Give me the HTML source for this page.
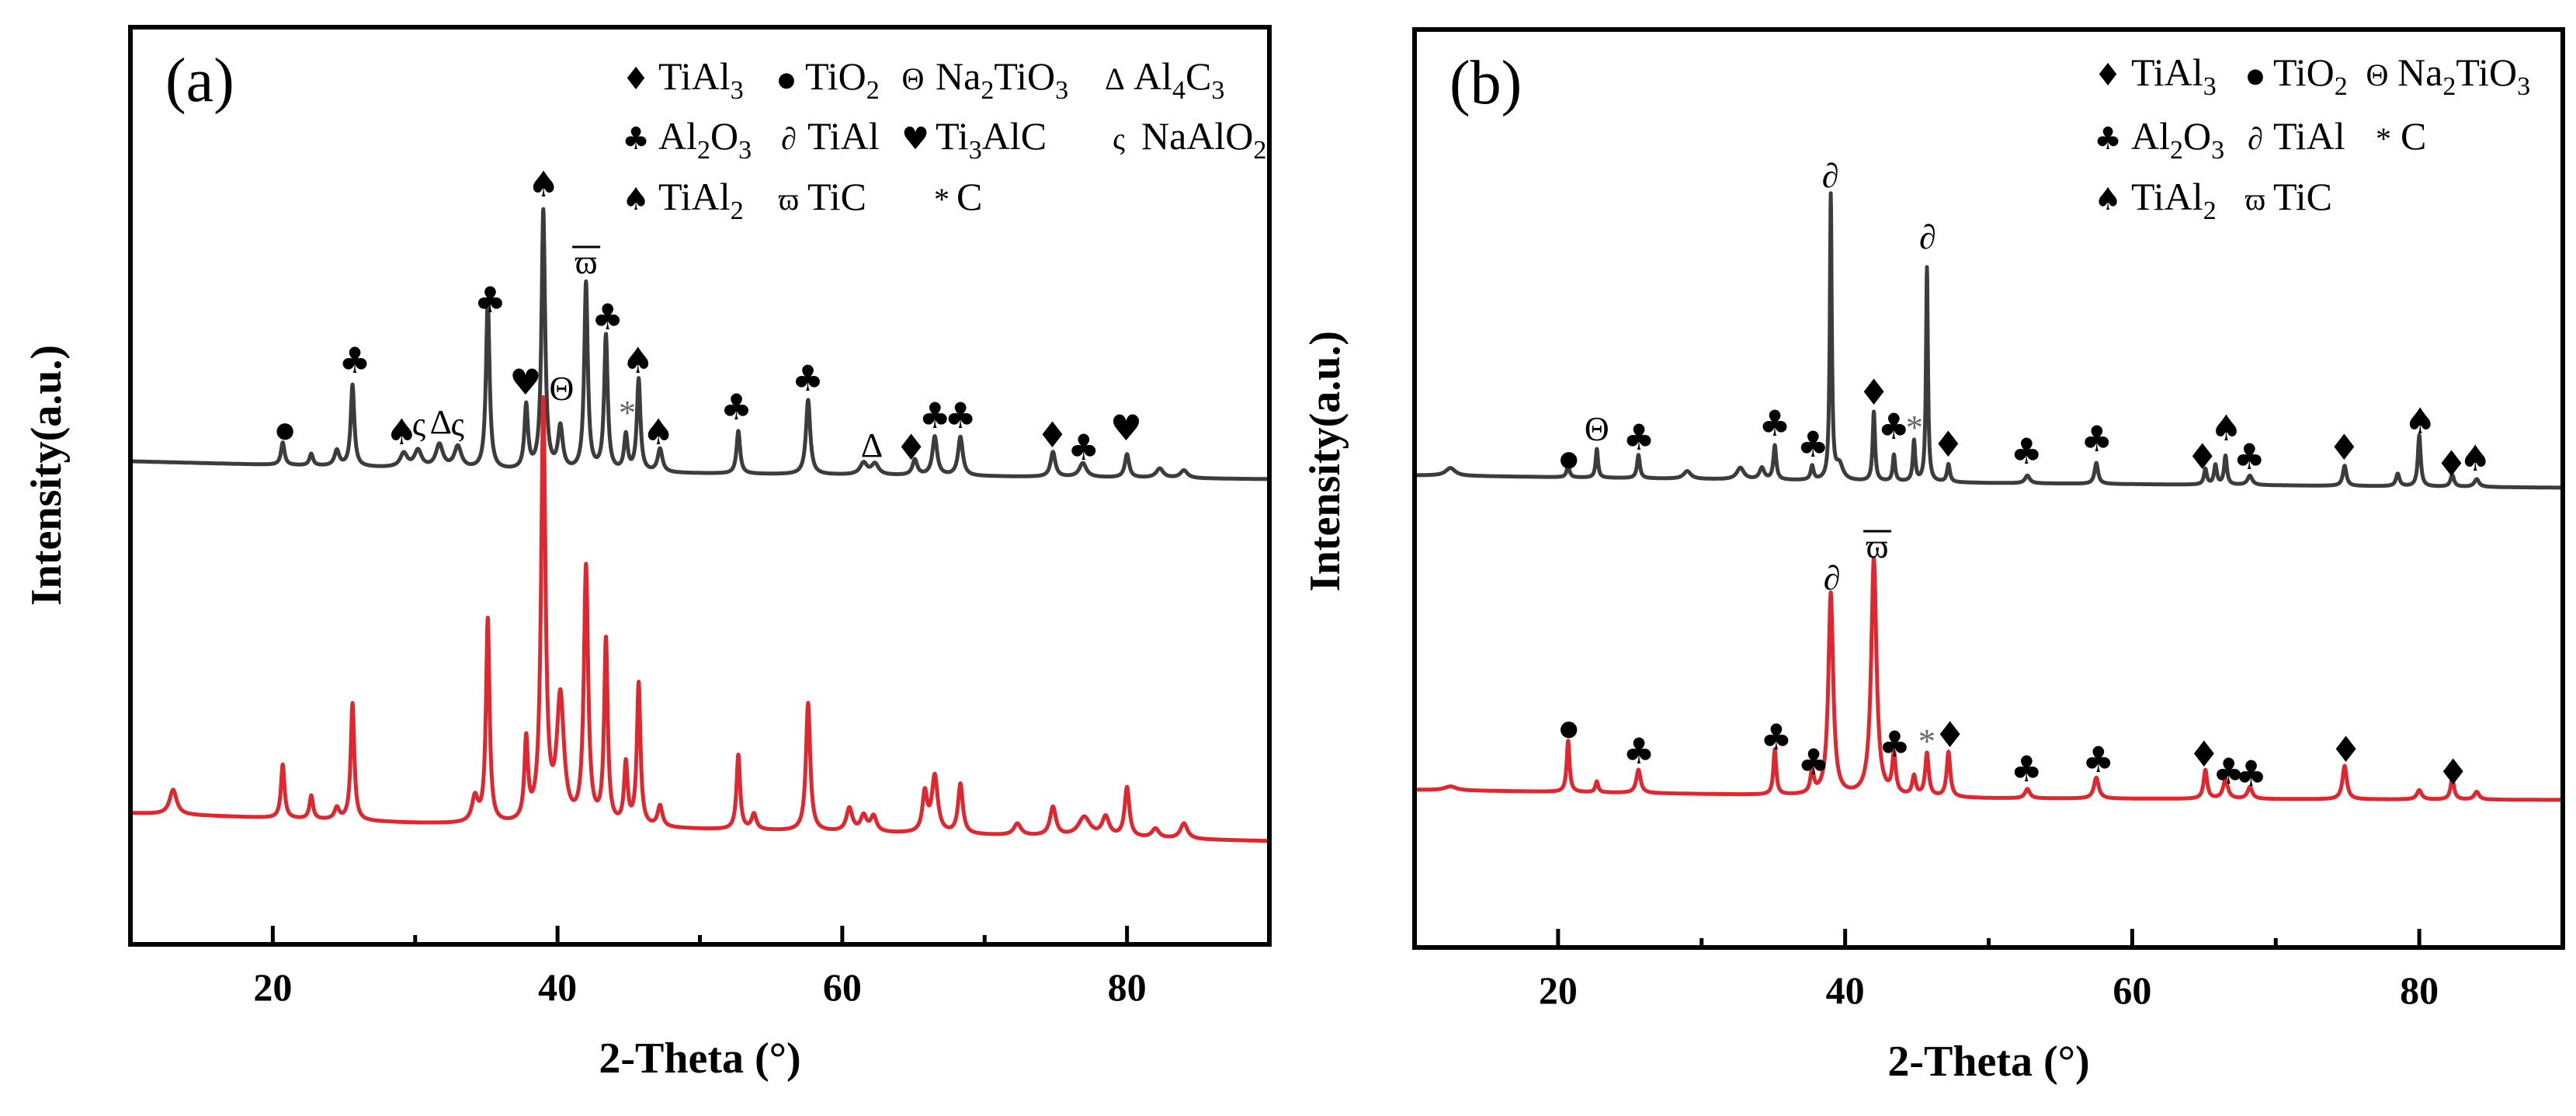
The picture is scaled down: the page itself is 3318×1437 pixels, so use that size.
<!DOCTYPE html>
<html><head><meta charset="utf-8"><style>
html,body{margin:0;padding:0;background:#fff;}
svg{display:block;font-family:"Liberation Serif",serif;}
</style></head><body>
<svg id="fig" width="3318" height="1437" viewBox="0 0 3318 1437" xmlns="http://www.w3.org/2000/svg">
<rect width="3318" height="1437" fill="#fff"/>
<g id="pa"></g>
<g id="pb"></g>
</svg>
<script>
// ---------- DATA ----------
const xTicks = [20, 40, 60, 80];
const xMinor = [30, 50, 70];
// Panel a, black (top) pattern
const aBlackBaseTheta = [10, 40, 90];
const aBlackBaseVal = [622, 608, 599];
const aBlackPeakPos = [20.7, 22.7, 24.5, 25.6, 29.2, 30.2, 31.7, 33.0, 35.1, 37.8, 39.0, 40.2, 42.0, 43.4, 44.8, 45.7, 47.2, 52.7, 57.6, 61.5, 62.3, 65.1, 66.5, 68.3, 74.8, 76.9, 80.0, 82.3, 84.0];
const aBlackPeakH =   [29, 15, 20, 105, 18, 22, 30, 28, 219, 82, 334, 55, 242, 174, 46, 119, 30, 55, 96, 15, 14, 20, 50, 50, 32, 18, 30, 12, 10];
const aBlackPeakW =   [0.15,0.15,0.2,0.15,0.3,0.3,0.3,0.3,0.15,0.15,0.15,0.2,0.15,0.15,0.15,0.15,0.2,0.15,0.18,0.3,0.3,0.2,0.2,0.2,0.2,0.3,0.18,0.3,0.3];
// Panel a, red (bottom) pattern
const aRedBaseTheta = [10, 30, 50, 90];
const aRedBaseVal = [169, 156, 148, 133];
const aRedPeakPos = [13.0, 20.7, 22.7, 24.5, 25.6, 34.2, 35.1, 37.8, 39.0, 40.2, 42.0, 43.4, 44.8, 45.7, 47.2, 52.7, 53.8, 57.6, 60.5, 61.5, 62.2, 65.8, 66.5, 68.3, 72.3, 74.8, 77.0, 78.5, 80.0, 82.0, 84.0];
const aRedPeakH =   [32, 69, 30, 15, 151, 32, 262, 103, 539, 160, 329, 236, 78, 183, 27, 96, 20, 165, 30, 20, 20, 50, 73, 64, 15, 37, 25, 25, 64, 12, 20];
const aRedPeakW =   [0.3,0.15,0.15,0.2,0.15,0.25,0.15,0.15,0.18,0.3,0.18,0.15,0.15,0.15,0.2,0.15,0.2,0.18,0.25,0.25,0.25,0.2,0.25,0.2,0.3,0.25,0.5,0.3,0.2,0.3,0.3];
// Panel b, black
const bBlackBaseTheta = [10, 50, 90];
const bBlackBaseVal = [608, 598, 592];
const bBlackPeakPos = [12.5, 20.7, 22.7, 25.6, 29.0, 32.7, 34.2, 35.1, 37.7, 39.0, 39.6, 42.0, 43.4, 44.8, 45.7, 47.2, 52.7, 57.5, 65.1, 65.8, 66.5, 68.2, 74.8, 78.5, 80.0, 82.3, 84.0];
const bBlackPeakH =   [10, 15, 37, 30, 10, 15, 15, 44, 18, 366, 20, 89, 34, 52, 276, 23, 10, 27, 20, 25, 37, 12, 26, 16, 66, 15, 10];
const bBlackPeakW =   [0.4,0.12,0.1,0.12,0.3,0.3,0.2,0.12,0.12,0.08,0.3,0.1,0.1,0.1,0.08,0.12,0.2,0.15,0.12,0.12,0.12,0.2,0.15,0.15,0.12,0.15,0.2];
// Panel b, red
const bRedBaseTheta = [10, 50, 90];
const bRedBaseVal = [203, 192, 190];
const bRedPeakPos = [12.5, 20.7, 22.7, 25.6, 35.1, 37.7, 39.0, 42.0, 43.4, 44.8, 45.7, 47.2, 52.7, 57.5, 65.1, 66.5, 68.2, 74.8, 80.0, 82.3, 84.0];
const bRedPeakH =   [5, 66, 14, 30, 58, 28, 260, 305, 50, 25, 55, 58, 12, 27, 37, 25, 15, 43, 12, 27, 10];
const bRedPeakW =   [0.5,0.12,0.12,0.18,0.12,0.15,0.2,0.22,0.15,0.15,0.15,0.15,0.2,0.2,0.15,0.2,0.2,0.18,0.2,0.15,0.2];
// Peak annotations (theta, value, symbol)
const aAnnTheta = [20.86,25.76,29.05,30.26,31.8,32.97,35.27,37.75,39.02,40.29,42.02,43.52,44.9,45.65,47.09,52.56,57.58,62.08,64.84,66.51,68.3,74.76,76.95,79.94];
const aAnnVal =   [663,750,658,669,672,669,828,722,977,715,878,806,684,750,658,690,727,642,638,679,679,654,638,663];
const aAnnSym =   ["●","♣","♠","ς","Δ","ς","♣","♥","♠","Θ","ϖ","♣","*","♠","♠","♣","♣","Δ","♦","♣","♣","♦","♣","♥"];
const bAnnTheta = [20.75,22.7,25.63,35.1,37.76,38.97,42.0,43.39,44.83,45.75,47.18,52.64,57.53,64.89,66.55,68.16,74.77,80.06,82.24,83.9,
                   20.75,25.63,35.2,37.8,39.08,42.24,43.45,45.69,47.3,52.64,57.64,65.0,66.72,68.28,74.89,82.36];
const bAnnVal =   [630,667,655,673,646,993,713,669,669,914,646,637,653,630,667,630,642,676,621,628,
                   283,251,269,237,475,516,260,265,272,228,240,247,225,222,253,224];
const bAnnSym =   ["●","Θ","♣","♣","♣","∂","♦","♣","*","∂","♦","♣","♣","♦","♠","♣","♦","♠","♦","♠",
                   "●","♣","♣","♣","∂","ϖ","♣","*","♦","♣","♣","♦","♣","♣","♦","♦"];

// ---------- RENDER ----------
const NS = "http://www.w3.org/2000/svg";
function mk(tag, attrs, parent){ const e=document.createElementNS(NS,tag); for(const k in attrs) e.setAttribute(k,attrs[k]); if(parent) parent.appendChild(e); return e; }

function interp(ts, vs, t){
  if(t<=ts[0]) return vs[0];
  for(let i=1;i<ts.length;i++){ if(t<=ts[i]){ const f=(t-ts[i-1])/(ts[i]-ts[i-1]); return vs[i-1]+f*(vs[i]-vs[i-1]); } }
  return vs[vs.length-1];
}
function pattern(bt,bv,pp,ph,pw,t){
  let v=interp(bt,bv,t);
  for(let i=0;i<pp.length;i++){ const d=(t-pp[i])/pw[i]; v+=ph[i]/(1+d*d); }
  return v;
}
const SYMF = {"●":1,"♣":1,"♠":1,"♥":1,"♦":1};

function panel(g, P, label, series, annT, annV, annS, legend){
  const xs = t => P.x0 + (t-10)/80*(P.x1-P.x0);
  const ys = v => P.y1 - v;
  series.forEach(s=>{
    let d="";
    for(let t=10;t<=90.0001;t+=0.02){ const v=pattern(s.bt,s.bv,s.pp,s.ph,s.pw,t); d+=(d?"L":"M")+xs(t).toFixed(1)+" "+ys(v).toFixed(1); }
    const p=mk("path",{d:d,fill:"none",stroke:s.color,"stroke-width":5,"stroke-linejoin":"round"},g);
    
    
  });
  const fr=mk("rect",{x:P.x0,y:P.y0,width:P.x1-P.x0,height:P.y1-P.y0,fill:"none",stroke:"#000","stroke-width":6},g);
  
  
  xTicks.forEach(t=>{
    const l=mk("line",{x1:xs(t),x2:xs(t),y1:P.y1,y2:P.y1-24,stroke:"#000","stroke-width":5},g);
    
    
    const tx=mk("text",{x:xs(t),y:P.y1+72,"text-anchor":"middle","font-size":50,"font-weight":"bold"},g);
    tx.textContent=t;
    
    
  });
  xMinor.forEach(t=>{
    const l=mk("line",{x1:xs(t),x2:xs(t),y1:P.y1,y2:P.y1-12,stroke:"#000","stroke-width":5},g);
    
    
  });
  const xt=mk("text",{x:(P.x0+P.x1)/2,y:P.y1+165,"text-anchor":"middle","font-size":56,"font-weight":"bold"},g);
  xt.textContent="2-Theta (°)";
  
  
  const yt=mk("text",{x:0,y:0,"text-anchor":"middle","font-size":56,"font-weight":"bold",transform:`translate(${P.ylx},${P.yly}) rotate(-90)`},g);
  yt.textContent="Intensity(a.u.)";
  
  
  const pl=mk("text",{x:P.x0+45,y:P.y0+95,"font-size":80},g);
  pl.textContent=label;
  
  
  for(let i=0;i<annT.length;i++){
    const sym=annS[i];
    const fs = sym==="●" ? 28 : (SYMF[sym] ? 46 : 44);
    const a=mk("text",{x:xs(annT[i]),y:ys(annV[i])+(sym==="●"?10:14),"text-anchor":"middle","font-size":fs,fill:(sym==="*"?"#666":"#000"),"font-family":SYMF[sym]?"DejaVu Sans, sans-serif":"Liberation Serif, serif","font-style":(sym==="∂")?"italic":"normal"},g);
    a.textContent=sym;
    if(sym==="ϖ"){ mk("line",{x1:xs(annT[i])-18,x2:xs(annT[i])+18,y1:ys(annV[i])-20,y2:ys(annV[i])-20,stroke:"#000","stroke-width":3},g); }
    
    
  }
  legend.forEach(e=>{
    const s=mk("text",{x:e.sx,y:e.y-(e.sym==="●"?4:0),"text-anchor":"middle","font-size":(e.sym==="●"?26:40),"font-family":(e.serifSym?"Liberation Serif, serif":"DejaVu Sans, sans-serif"),"font-style":e.sym==="∂"?"italic":"normal"},g);
    s.textContent=e.sym;
    
    
    const t=mk("text",{x:e.tx,y:e.y,"font-size":50},g);
    e.parts.forEach(p=>{
      const sp=mk("tspan",p[1]?{"font-size":34,dy:12}:{dy:p[2]||0},t);
      sp.textContent=p[0];
    });
    
    
  });
}

const legA=[
 {sym:"♦",sx:819,tx:848,y:115,parts:[["TiAl"],["3",1]]},
 {sym:"●",sx:1013,tx:1037,y:115,parts:[["TiO"],["2",1]]},
 {sym:"Θ",sx:1176,tx:1205,y:115,serifSym:1,parts:[["Na"],["2",1],["TiO",0,-12],["3",1]]},
 {sym:"Δ",sx:1436,tx:1460,y:115,serifSym:1,parts:[["Al"],["4",1],["C",0,-12],["3",1]]},
 {sym:"♣",sx:819,tx:848,y:192,parts:[["Al"],["2",1],["O",0,-12],["3",1]]},
 {sym:"∂",sx:1016,tx:1040,y:192,serifSym:1,parts:[["TiAl"]]},
 {sym:"♥",sx:1179,tx:1205,y:192,parts:[["Ti"],["3",1],["AlC",0,-12]]},
 {sym:"ς",sx:1441,tx:1470,y:192,serifSym:1,parts:[["NaAlO"],["2",1]]},
 {sym:"♠",sx:819,tx:848,y:270,parts:[["TiAl"],["2",1]]},
 {sym:"ϖ",sx:1016,tx:1040,y:270,serifSym:1,parts:[["TiC"]]},
 {sym:"*",sx:1213,tx:1232,y:270,serifSym:1,parts:[["C"]]}
];
const legB=[
 {sym:"♦",sx:2715,tx:2745,y:110,parts:[["TiAl"],["3",1]]},
 {sym:"●",sx:2905,tx:2928,y:110,parts:[["TiO"],["2",1]]},
 {sym:"Θ",sx:3062,tx:3088,y:110,serifSym:1,parts:[["Na"],["2",1],["TiO",0,-12],["3",1]]},
 {sym:"♣",sx:2715,tx:2745,y:192,parts:[["Al"],["2",1],["O",0,-12],["3",1]]},
 {sym:"∂",sx:2905,tx:2928,y:192,serifSym:1,parts:[["TiAl"]]},
 {sym:"*",sx:3070,tx:3092,y:192,serifSym:1,parts:[["C"]]},
 {sym:"♠",sx:2715,tx:2745,y:270,parts:[["TiAl"],["2",1]]},
 {sym:"ϖ",sx:2905,tx:2928,y:270,serifSym:1,parts:[["TiC"]]}
];

panel(document.getElementById("pa"),
 {x0:168,x1:1635,y0:35,y1:1216,ylx:78,yly:612},"(a)",
 [{name:"pattern-a-top-black",color:"#3c3c3c",bt:aBlackBaseTheta,bv:aBlackBaseVal,pp:aBlackPeakPos,ph:aBlackPeakH,pw:aBlackPeakW},
  {name:"pattern-a-bottom-red",color:"#e0262e",bt:aRedBaseTheta,bv:aRedBaseVal,pp:aRedPeakPos,ph:aRedPeakH,pw:aRedPeakW}],
 aAnnTheta,aAnnVal,aAnnSym,legA);
panel(document.getElementById("pb"),
 {x0:1822,x1:3301,y0:38,y1:1220,ylx:1725,yly:594},"(b)",
 [{name:"pattern-b-top-black",color:"#3c3c3c",bt:bBlackBaseTheta,bv:bBlackBaseVal,pp:bBlackPeakPos,ph:bBlackPeakH,pw:bBlackPeakW},
  {name:"pattern-b-bottom-red",color:"#e0262e",bt:bRedBaseTheta,bv:bRedBaseVal,pp:bRedPeakPos,ph:bRedPeakH,pw:bRedPeakW}],
 bAnnTheta,bAnnVal,bAnnSym,legB);
</script>
</body></html>
